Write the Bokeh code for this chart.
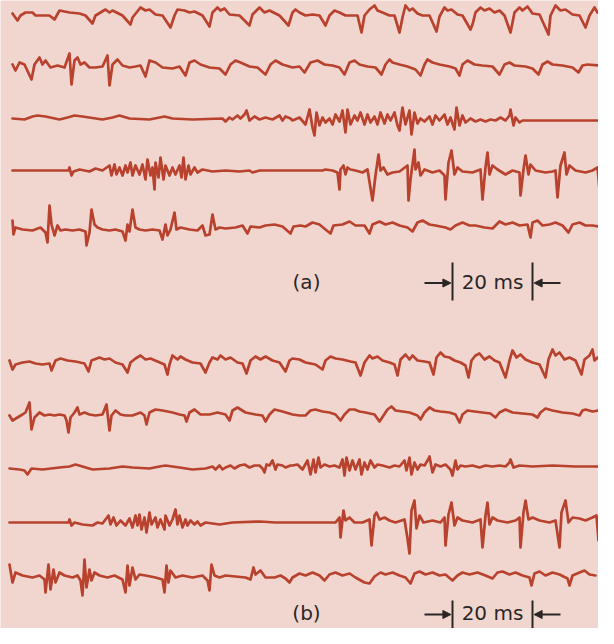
import numpy as np
from bokeh.plotting import figure
from bokeh.models import Range1d, Label, Arrow, NormalHead
from bokeh.embed import file_html
from bokeh.resources import INLINE

# ---------------- data ----------------
# Each trace: (sample index at 4 kHz, amplitude in arbitrary units) of the turning points
SAMPLES_PER_MS = 4.0

a1 = [(0, 2), (5, -5), (8, 0), (13, 3), (20, 3), (23, 0), (37, 0), (42, -4), (47, 5), (57, 3), (67, 2), (73, 0),
      (80, -8), (83, 0), (93, 6), (97, 3), (100, 5), (110, 0), (118, -9), (120, -2), (128, 8), (133, 5), (137, 6),
      (143, 1), (150, 0), (158, -12), (162, 0), (165, 6), (172, 5), (177, 3), (182, 4), (190, 0), (197, -11),
      (200, 3), (205, 8), (208, 5), (212, 7), (217, 1), (227, 0), (237, -10), (240, 1), (247, 8), (252, 3),
      (257, 5), (267, 0), (276, -10), (280, 3), (283, 6), (287, 3), (293, 0), (300, 1), (307, 0), (313, -10),
      (317, 0), (322, 5), (327, 3), (333, 0), (345, 0), (349, -17), (352, 0), (357, 6), (362, 10), (365, 5),
      (370, 3), (377, 0), (382, 0), (387, -17), (390, -2), (393, 10), (397, 5), (400, 7), (405, 2), (410, 0),
      (417, 0), (424, -16), (427, -1), (432, 8), (435, 5), (439, 6), (445, 1), (450, 0), (458, -14), (460, -9),
      (463, 3), (468, 8), (472, 5), (477, 7), (482, 3), (487, 5), (492, 0), (498, -17), (502, 3), (507, 8),
      (510, 5), (515, 9), (520, 2), (527, 1), (536, -19), (538, 0), (543, 10), (548, 5), (553, 6), (560, 1),
      (567, 0), (573, -12), (577, 0), (582, 8), (585, 3), (588, 6), (593, 2)]

a2 = [(0, 4), (3, -2), (7, 6), (12, 4), (19, -11), (22, 4), (27, 11), (30, 4), (33, 8), (38, 1), (45, 3), (52, 1),
      (57, 15), (59, -16), (62, 8), (65, 11), (68, 4), (72, 6), (77, 1), (83, 1), (90, 2), (95, 13), (97, -17),
      (100, 4), (105, 9), (110, 3), (117, 1), (123, 2), (128, 3), (133, -8), (137, 8), (143, 6), (150, 1),
      (160, 0), (167, 2), (173, -7), (177, 6), (182, 8), (188, 4), (197, 1), (207, 0), (213, -6), (218, 4),
      (223, 8), (228, 6), (237, 2), (245, 1), (253, -6), (258, 4), (263, 8), (270, 4), (280, 1), (287, 2),
      (292, -4), (298, 6), (305, 8), (312, 4), (320, 3), (327, 1), (332, -6), (337, 6), (342, 8), (347, 4),
      (355, 2), (363, 1), (369, -6), (373, 4), (377, 9), (380, 6), (387, 4), (395, 2), (403, -1), (408, -7),
      (412, 4), (415, 9), (420, 6), (427, 4), (437, 2), (443, 0), (447, -7), (450, 4), (455, 8), (462, 4),
      (470, 3), (480, 2), (487, -6), (492, 4), (497, 6), (502, 3), (513, 2), (520, 0), (526, -6), (530, 4),
      (535, 7), (540, 4), (550, 3), (560, 1), (566, -4), (570, 3), (575, 4), (587, 3), (593, 2)]

a3 = [(0, 0), (12, -1), (20, 2), (25, 3), (33, 2), (47, -1), (55, 1), (62, 3), (70, 2), (90, -1), (100, 1),
      (107, 3), (117, 0), (137, -1), (147, 1), (152, 2), (160, 0), (180, -1), (210, 0), (213, -3), (217, 1),
      (220, -1), (225, 3), (228, 0), (232, 4), (234, 8), (237, -2), (242, 2), (247, -1), (253, 1), (260, -1),
      (267, 3), (270, -2), (273, 2), (278, 0), (280, -2), (287, 1), (293, -6), (297, 9), (300, -9), (302, -17),
      (304, 6), (307, -7), (310, 1), (313, -4), (317, 0), (320, -6), (323, 4), (327, -3), (330, 8), (333, -14),
      (335, 9), (338, -6), (342, 3), (345, -2), (348, 6), (352, -6), (355, 4), (358, -4), (362, 2), (365, -6),
      (368, 6), (372, -5), (375, 4), (378, -2), (382, 6), (385, -7), (387, -12), (390, 11), (393, -6), (397, 8),
      (399, -16), (402, 6), (405, -5), (408, 0), (412, -3), (417, 2), (420, -6), (423, 3), (427, -2), (432, 4),
      (435, -6), (438, 1), (442, -11), (444, 11), (447, -7), (450, 3), (453, -4), (458, 0), (463, -3),
      (468, -1), (473, -3), (478, -1), (483, -2), (488, 1), (493, -2), (497, 3), (498, 9), (501, -7), (503, 1),
      (507, -4), (510, -2), (593, -2)]

a4 = [(0, 0), (56, 0), (57, 3), (59, -5), (61, -1), (67, 1), (77, -1), (83, 2), (90, 0), (97, 5), (99, -5),
      (102, 6), (104, -4), (107, 3), (110, -5), (113, 5), (115, -2), (118, 8), (120, -5), (123, 5), (127, -4),
      (130, 6), (133, -9), (135, 11), (138, -5), (140, 3), (142, -19), (143, 8), (146, -7), (148, 13), (151, -9),
      (153, 5), (157, -5), (160, 3), (163, -4), (167, 5), (169, -7), (171, 13), (173, -9), (176, 5), (178, -4),
      (182, 3), (185, -2), (190, 1), (200, -1), (213, 0), (227, -1), (237, 0), (240, -2), (247, 0), (310, 0),
      (313, 1), (320, 0), (325, -2), (327, -19), (328, 1), (331, 5), (333, -4), (335, 3), (338, 1), (343, 0),
      (350, -2), (355, 1), (360, -30), (363, -5), (366, 16), (368, 0), (371, 3), (375, -4), (380, -2),
      (387, -1), (395, 5), (396, -30), (398, -9), (402, 21), (403, 1), (406, 8), (408, -5), (412, 1), (420, -2),
      (427, 0), (432, -5), (433, -29), (436, 8), (439, 20), (442, -4), (445, 3), (450, -1), (460, -2), (468, 1),
      (470, -29), (473, 3), (475, 18), (477, -4), (480, 5), (485, 1), (493, -4), (500, 0), (507, -2),
      (508, -25), (511, 1), (513, 15), (516, -4), (518, 6), (523, 0), (533, -2), (540, -1), (543, 0),
      (545, -27), (548, 5), (552, 18), (554, -4), (557, 5), (563, 0), (573, -2), (580, 0), (585, 3), (587, -19)]

a5 = [(0, 7), (1, -7), (3, 0), (10, -2), (20, -3), (28, 0), (33, -5), (35, -15), (37, 22), (39, 3), (42, -8),
      (45, 2), (48, -3), (53, -2), (60, -3), (67, -2), (73, -4), (74, -18), (77, -5), (79, 18), (82, 3), (85, 0),
      (90, -2), (97, -3), (103, -2), (110, -4), (113, -13), (115, 3), (117, -4), (120, 18), (123, 0), (127, -2),
      (133, -3), (140, -2), (147, -3), (150, -12), (153, 3), (155, -8), (158, -2), (162, 15), (164, -2),
      (168, 0), (177, -2), (185, -3), (190, 2), (193, -8), (197, -7), (200, 13), (203, -2), (207, 0), (213, -1),
      (223, 0), (230, 2), (235, -6), (238, 1), (247, 0), (253, 2), (262, 3), (270, 1), (278, -6), (281, 1),
      (288, 2), (293, 1), (300, 5), (307, 3), (313, -2), (318, -6), (321, 2), (330, 3), (337, 6), (343, 2),
      (352, 2), (357, -6), (360, 3), (367, 6), (373, 3), (380, 5), (387, 2), (395, 0), (400, -4), (405, 5),
      (410, 7), (417, 3), (423, 2), (433, 0), (438, -2), (443, 2), (450, 5), (457, 2), (463, 2), (472, 0),
      (480, -1), (487, 6), (493, 3), (500, 5), (507, 2), (515, 3), (518, -10), (520, 5), (525, 7), (530, 2),
      (537, 3), (543, 5), (550, 2), (556, -5), (560, 3), (567, 5), (573, 2), (580, 2), (587, 1)]

b1 = [(-3, 2), (0, -7), (3, -2), (10, 0), (17, 1), (23, -1), (30, -2), (37, -1), (39, -8), (43, 2), (48, 4),
      (55, 2), (63, 1), (72, -1), (76, -9), (79, 2), (87, 5), (92, 3), (97, 4), (103, 0), (110, -2), (115, -10),
      (118, 0), (123, 4), (128, 7), (133, 3), (138, 4), (145, 1), (152, -2), (155, -12), (157, -2), (160, 7),
      (165, 3), (168, 6), (173, 3), (180, 0), (188, -1), (193, -10), (197, 0), (200, 5), (205, 3), (208, 7),
      (213, 3), (218, 5), (225, 0), (230, -1), (234, -11), (238, 2), (243, 6), (248, 3), (253, 6), (260, 2),
      (267, 0), (273, -9), (277, 2), (280, 4), (287, 3), (293, 0), (298, -1), (303, -2), (310, -7), (313, 2),
      (318, 6), (323, 4), (330, 3), (338, 1), (343, 0), (348, -13), (352, 0), (357, 7), (360, 4), (365, 6),
      (370, 2), (377, 0), (382, -2), (385, -13), (388, 3), (393, 8), (397, 3), (400, 7), (405, 2), (412, 1),
      (417, 0), (421, -12), (424, 5), (428, 10), (432, 6), (437, 5), (442, 2), (448, 0), (453, -3), (456, -15),
      (459, 2), (463, 7), (467, 9), (472, 3), (477, 6), (482, 2), (487, 0), (493, -15), (497, 2), (500, 12),
      (504, 5), (508, 8), (513, 3), (520, 0), (527, -2), (533, -15), (536, 3), (540, 13), (543, 7), (547, 10),
      (552, 3), (557, 5), (563, 2), (569, -12), (572, 3), (577, 7), (580, 13), (582, 2), (585, 5), (588, 3)]

b2 = [(-3, 0), (0, -5), (5, -2), (10, 1), (13, 3), (17, 13), (19, -14), (22, -2), (27, 3), (32, 0), (37, 1),
      (42, 0), (47, 1), (52, 0), (54, -5), (56, -17), (58, -2), (62, 3), (65, 8), (67, 1), (72, 3), (77, 1),
      (83, 0), (90, 1), (94, 11), (97, -15), (99, 0), (103, 5), (108, 1), (113, 0), (120, 0), (128, 3), (132, 0),
      (134, -9), (137, 3), (143, 6), (150, 5), (160, 3), (167, 1), (172, 0), (174, -6), (177, 3), (182, 6),
      (188, 1), (197, 1), (205, 3), (213, 1), (217, -5), (220, 5), (225, 8), (233, 3), (243, 1), (250, 0),
      (253, -6), (257, 1), (262, 6), (270, 4), (280, 1), (287, 0), (293, 0), (298, 5), (303, 6), (310, 4),
      (317, 3), (323, 1), (328, -5), (332, 1), (337, 6), (342, 6), (347, 4), (353, 3), (362, 1), (367, -6),
      (371, 0), (375, 6), (379, 9), (383, 5), (390, 4), (397, 3), (405, 0), (408, -4), (412, 3), (417, 8),
      (422, 5), (428, 4), (437, 3), (443, 1), (447, -7), (450, 1), (455, 5), (462, 4), (470, 3), (478, 2),
      (483, -2), (487, 3), (493, 6), (500, 3), (510, 2), (520, 1), (525, -2), (528, 3), (533, 7), (540, 5),
      (550, 3), (560, 2), (567, 0), (570, 5), (573, 6), (580, 4), (587, 5)]

b3 = [(-3, -1), (7, -2), (12, -3), (15, -7), (19, -1), (30, -2), (47, 0), (57, 1), (63, 3), (70, 1), (80, -2),
      (97, -1), (110, 1), (120, 0), (137, -1), (147, 1), (153, 2), (167, 0), (180, -2), (193, -1), (200, 1),
      (203, -2), (207, 2), (210, -2), (213, 0), (218, 2), (222, -1), (227, 2), (232, 3), (237, 0), (242, 2),
      (247, 2), (250, -1), (252, -5), (254, 3), (257, 2), (260, 7), (263, -2), (265, 3), (270, 2), (273, 0),
      (278, 2), (280, 2), (285, 3), (290, -2), (295, 7), (298, -7), (301, 8), (303, -5), (306, 10), (308, 0),
      (312, 3), (317, 1), (322, 2), (327, 0), (330, 8), (332, -8), (334, 10), (337, -3), (340, 7), (343, -2),
      (347, 8), (349, -7), (352, 5), (355, -2), (358, 7), (362, 0), (365, 3), (370, 2), (377, 0), (382, 2),
      (387, 1), (392, 7), (394, -3), (397, 10), (399, -7), (402, 5), (405, -2), (408, 3), (412, 2), (415, 7),
      (417, 11), (420, -5), (423, 3), (428, 1), (433, 3), (438, -2), (440, -8), (443, 7), (445, -2), (448, 2),
      (453, 1), (460, 2), (467, 0), (473, 2), (480, 1), (487, 2), (493, 1), (497, 5), (498, 8), (501, 0),
      (507, 2), (520, 1), (540, 2), (563, 1), (587, 1)]

b4 = [(-3, 0), (56, 0), (57, 3), (59, -3), (62, 0), (70, -2), (80, -3), (85, 0), (90, -1), (93, 3), (96, 7),
      (98, -2), (101, 5), (104, -3), (108, 2), (113, -3), (117, 4), (120, -5), (123, 7), (125, -3), (127, 8),
      (129, -7), (132, 5), (134, -10), (137, 10), (139, -2), (143, 5), (145, -5), (148, 3), (152, -7), (153, 7),
      (157, -3), (160, 3), (163, 13), (165, -2), (167, 7), (170, -5), (173, 3), (175, -3), (178, 2), (182, -2),
      (185, 1), (188, -3), (193, 0), (207, -2), (220, 0), (247, 1), (263, 0), (323, 0), (327, 5), (328, -15),
      (331, 12), (333, 2), (337, 5), (342, 0), (350, 0), (357, 3), (359, -23), (362, 7), (364, 10), (367, 3),
      (372, 5), (377, 2), (383, 0), (392, 3), (395, -16), (397, -31), (399, 12), (402, 22), (404, -6), (407, 7),
      (411, 0), (420, 2), (428, 0), (432, 5), (433, -23), (436, 8), (439, 20), (442, -3), (445, 5), (450, 2),
      (460, 0), (468, 3), (470, -25), (473, 7), (475, 20), (477, -2), (480, 5), (485, 2), (495, 0), (503, 2),
      (507, 5), (508, -25), (511, 10), (513, 22), (516, 3), (520, 5), (527, 2), (537, 0), (543, 2), (547, -25),
      (549, 10), (553, 22), (556, 0), (560, 5), (567, 4), (573, 2), (580, 5), (584, 7), (586, -18)]

b5 = [(-3, 11), (0, -7), (3, 3), (10, 0), (20, -2), (27, 0), (32, -4), (33, -17), (36, 11), (38, -14), (41, 6),
      (43, -7), (47, 3), (52, 0), (60, -2), (65, 0), (68, -5), (70, -20), (72, 16), (74, -12), (77, 6), (79, -5),
      (82, 3), (87, 0), (95, -2), (102, 0), (110, -4), (113, -17), (115, 10), (117, -10), (120, 8), (123, -4),
      (127, 1), (133, 0), (143, -2), (150, -4), (152, -17), (154, 10), (156, -7), (158, 5), (163, -2), (170, 0),
      (180, -2), (190, 0), (195, -5), (197, -15), (199, 11), (202, 0), (207, -2), (213, 0), (223, -1),
      (233, -2), (238, -4), (241, 8), (243, 1), (248, 5), (253, -2), (262, -2), (268, 0), (273, -3), (277, -7),
      (280, -2), (287, 2), (293, 0), (300, 3), (307, 0), (312, -5), (317, 1), (323, 3), (330, 0), (337, 2),
      (343, -2), (352, -7), (357, -8), (362, -1), (368, 3), (373, 1), (380, 3), (387, 0), (393, -2), (398, -8),
      (402, 2), (407, 4), (413, 1), (420, 3), (427, 0), (433, 1), (440, -5), (445, 0), (450, 3), (457, 1),
      (465, 3), (473, 0), (480, -3), (485, 3), (490, 4), (497, 1), (503, 3), (510, 0), (517, -2), (519, -10),
      (522, 2), (527, 4), (533, 0), (540, 3), (547, 1), (555, -3), (557, -10), (560, 0), (567, 3), (572, 5),
      (577, 1), (583, 0)]

panel_traces = [[a1, a2, a3, a4, a5], [b1, b2, b3, b4, b5]]
panel_labels = ["(a)", "(b)"]
scale_ms = 20
scale_label = "20 ms"

# ---------------- layout / style ----------------
BG = "#f1d6cf"
INK = "#b8422d"
TXT = "#2b2626"
row_base = [[23, 76, 126, 178, 235], [370, 423, 475, 530, 583]]   # vertical placement of each row
label_mid = [289, 620]         # vertical centre of the caption rows
arrow_y = [290.5, 622]
bar_span = [(270, 308), (608, 644)]
label_x_ms = 73.5
scale_start_ms = 110.0

p = figure(width=598, height=628, output_backend="svg", toolbar_location=None,
           x_range=Range1d(-3, 146.5), y_range=Range1d(636, 8),
           min_border=0, min_border_left=0, min_border_right=0, min_border_top=0, min_border_bottom=0)
p.axis.visible = False
p.grid.visible = False
p.outline_line_color = None
p.background_fill_color = BG
p.border_fill_color = BG

for pi, traces in enumerate(panel_traces):
    for ri, tr in enumerate(traces):
        n = np.array([q[0] for q in tr], dtype=float)
        v = np.array([q[1] for q in tr], dtype=float)
        p.line(n / SAMPLES_PER_MS, row_base[pi][ri] - v, line_color=INK, line_width=2.7,
               line_join="round", line_cap="round")

    p.add_layout(Label(x=label_x_ms, y=label_mid[pi], text=panel_labels[pi], text_align="center",
                       text_baseline="middle", text_font="DejaVu Sans", text_font_size="20px",
                       text_color=TXT))
    x0 = scale_start_ms
    x1 = scale_start_ms + scale_ms
    p.add_layout(Label(x=(x0 + x1) / 2, y=label_mid[pi], text=scale_label, text_align="center",
                       text_baseline="middle", text_font="DejaVu Sans", text_font_size="20px",
                       text_color=TXT))
    y0, y1 = bar_span[pi]
    p.segment(x0=[x0, x1], y0=[y0, y0], x1=[x0, x1], y1=[y1, y1], line_color=TXT, line_width=2)
    head = dict(size=8, fill_color=TXT, line_color=TXT, line_width=1)
    p.add_layout(Arrow(end=NormalHead(**head), x_start=x0 - 7, y_start=arrow_y[pi], x_end=x0 - 0.4,
                       y_end=arrow_y[pi], line_color=TXT, line_width=2))
    p.add_layout(Arrow(end=NormalHead(**head), x_start=x1 + 7, y_start=arrow_y[pi], x_end=x1 + 0.4,
                       y_end=arrow_y[pi], line_color=TXT, line_width=2))

open("out.html", "w").write(file_html(p, INLINE))
